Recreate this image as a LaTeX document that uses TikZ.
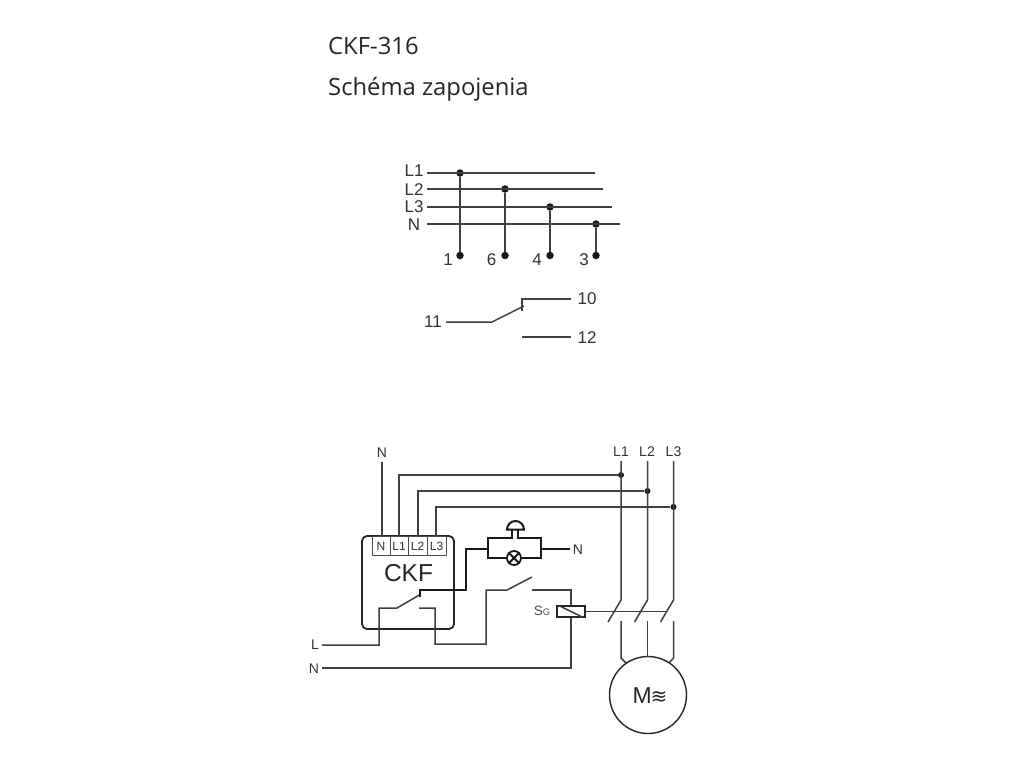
\documentclass[tikz,border=0pt]{standalone}
\usepackage{fontspec}
\setmainfont{Liberation Sans}
\newfontfamily\titlefont{Open Sans}
\newfontfamily\symfont{DejaVu Sans}
\usetikzlibrary{calc}

\begin{document}
\begin{tikzpicture}[
 x=1pt, y=-1pt,
 line join=miter,
 wire/.style  = {draw=black!75, line width=1.5pt},
 thin wire/.style = {draw=black!70, line width=0.8pt},
 bold wire/.style = {draw=black!90, line width=2pt},
 dot/.style   = {circle, fill=black!90, inner sep=0pt, minimum size=7.5pt},
 lbl/.style   = {inner sep=0pt, text=black!80, font=\fontsize{17}{17}\selectfont},
 small lbl/.style = {inner sep=0pt, text=black!80, font=\fontsize{14}{14}\selectfont},
 term lbl/.style = {inner sep=0pt, text=black!80, font=\fontsize{12}{12}\selectfont},
 title/.style = {anchor=base west, inner sep=0pt, text=black!85, font=\titlefont\fontsize{23.8}{24}\selectfont},
                        ]
\useasboundingbox (0,0) rectangle (1024,768);
\fill[white] (0,0) rectangle (1024,768);

% titles
\node[title] (head)  at (328,55) {CKF-316};
\node[title] (head2) at (328,95) {Schéma zapojenia};

% supply rails and the terminals below them
\foreach \name/\y/\ylab/\xend/\xdot/\xlab/\num in {L1/173/171/595/460/448/1, L2/189/190/603/505/491.5/6,
                                             L3/207/207/612/550/537/4, N/224/225/620/596/584/3}
 {
    \node[lbl] (r\name) at (414,\ylab) {\name};
    \coordinate (s\name) at (427,\y);
    \coordinate (e\name) at (\xend,\y);
    \node[dot] (d\name) at (\xdot,\y) {};
    \node[dot] (b\name) at (\xdot,255.5) {};
    \node[lbl] (n\name) at (\xlab,259.5) {\num};
    \draw[wire] (s\name) -- (e\name);
    \draw[wire] (d\name) -- (b\name);
 }

% changeover contact
\node[lbl] (c11) at (433,322) {11};
\node[lbl] (c10) at (587,299) {10};
\node[lbl] (c12) at (587,338) {12};
\coordinate (c11a) at (446,322);
\coordinate (c11b) at (492,322);
\coordinate (c10a) at (522,299);
\coordinate (c10b) at (571,299);
\coordinate (c12a) at (522,337);
\coordinate (c12b) at (571,337);
\draw[wire] (c11a) -- (c11b) -- (524,306);
\draw[wire] (522,311) -- (c10a) -- (c10b);
\draw[wire] (c12a) -- (c12b);

% device
\node[draw=black!85, line width=1.8pt, rounded corners=5pt, minimum width=92pt, minimum height=93pt,
      inner sep=0pt] (ckf) at (408,582.5) {};
\node[inner sep=0pt, text=black!85, font=\fontsize{24.5}{25}\selectfont] (ckfl) at (408.5,573.5) {CKF};
\foreach \name/\x/\w in {N/381/18, L1/399/18, L2/417.5/19, L3/436.5/19}
 {
    \node[thin wire, draw, minimum width=\w pt, minimum height=19pt, inner sep=0pt] (t\name) at (\x,545.5) {};
    \node[term lbl] (tl\name) at (\x,546) {\name};
 }

% phases on the right
\foreach \name/\x in {L1/621, L2/647, L3/673.5}
    \node[small lbl] (p\name) at (\x,452) {\name};
\node[small lbl] (pN) at (382,453) {N};
\node[small lbl] (nL) at (315,645) {L};
\node[small lbl] (nN) at (314,669) {N};
\node[small lbl] (nB) at (578,550) {N};

\node[dot, minimum size=6pt] (j1) at (621,475) {};
\node[dot, minimum size=6pt] (j2) at (647.5,491) {};
\node[dot, minimum size=6pt] (j3) at (673.5,507) {};

\coordinate (na) at (382,462);
\draw[wire] (na) -- (na |- tN.north);
\draw[wire] (399,536) |- (j1);
\draw[wire] (418,536) |- (j2);
\draw[wire] (436,536) |- (j3);

% contactor poles
\foreach \a/\x in {1/621, 2/647.5, 3/673.5}
 {
    \coordinate (top\a) at (\x,461);
    \coordinate (piv\a) at (\x,600);
    \coordinate (tip\a) at (\x-13,622);
    \coordinate (low\a) at (\x,621);
    \draw[wire] (top\a) -- (piv\a) -- (tip\a);
 }
\draw[wire] (low1) -- (621,658) -- (626,663);
\draw[wire] (low2) -- (647.5,657);
\draw[wire] (low3) -- (673.5,658) -- (669,663);

% motor
\node[draw=black!85, line width=1.4pt, circle, minimum size=77pt, inner sep=0pt] (motor) at (648,695) {};
\node[inner sep=0pt, text=black!85, font=\fontsize{23}{23}\selectfont] (motorl) at (650,696)
    {M\hspace{-1pt}{\symfont\fontsize{20}{20}\selectfont ≋}};

% relay coil
\node[draw=black!85, line width=1.3pt, minimum width=28pt, minimum height=11pt, inner sep=0pt] (coil) at (571,611.5) {};
\node[inner sep=0pt, text=black!70, font=\fontsize{13.5}{14}\selectfont] (sg) at (542,611) {S{\fontsize{9.5}{10}\selectfont G}};
\draw[wire] (coil.north west) ++(3,0.5) -- ($(coil.south east)+(-3,-0.5)$);
\draw[wire] (coil.east) -- (667,611.5);
\coordinate (sg1) at (532,590);
\coordinate (nr) at (322,668);
\draw[wire] (sg1) -| (coil.north);
\draw[wire] (nr) -| (coil.south);

% lamp and push button
\node[draw=black!90, line width=1.8pt, circle, minimum size=14pt, inner sep=0pt, fill=white] (lamp) at (514,558) {};
\coordinate (bl) at (488,558);
\coordinate (br) at (541,558);
\coordinate (in) at (488,549);
\coordinate (out) at (541,549);
\draw[bold wire] (lamp.west) -- (bl) -- (488,538) -- (512,538) -- (512,530);
\draw[bold wire] (lamp.east) -- (br) -- (541,538) -- (518,538) -- (518,530);
\draw[bold wire] (lamp.45) -- (lamp.225) (lamp.135) -- (lamp.315);
\draw[bold wire] (507,529.5) -- (524,529.5) arc (0:-180:8.5 and 8.5) -- cycle;
\coordinate (outn) at (570,549);
\draw[bold wire] (out) -- (outn);

% L feed and device contact
\coordinate (lf) at (322,645);
\coordinate (cm) at (397,608);
\draw[wire] (lf) -- (379,645) -- (379,608) -- (cm) -- (421,594);
\draw[bold wire] (420,597) -- (420,589.5) -- (466,589.5) -- (466,549) -- (in);
\draw[wire] (419,608) -- (435,608) -- (435,644) -- (486,644) -- (486,590) -- (507,590) -- (532,577);

\end{tikzpicture}
\end{document}
